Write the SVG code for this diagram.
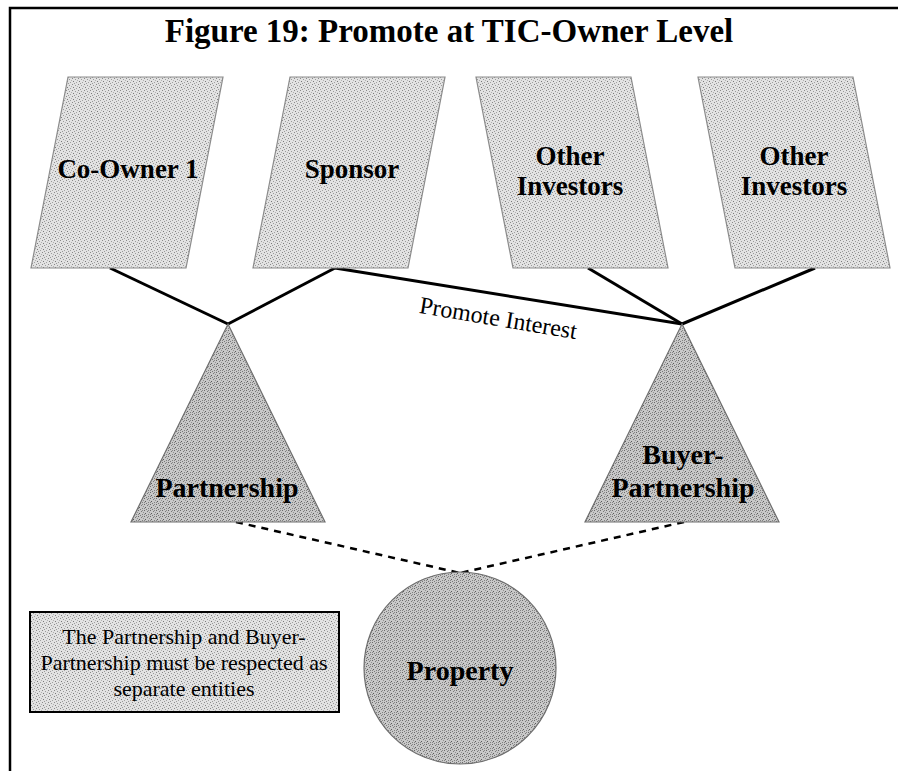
<svg xmlns="http://www.w3.org/2000/svg" width="898" height="771" viewBox="0 0 898 771">
  <defs>
    <!-- stippled fills -->
    <pattern id="stippleLight" width="6" height="6" patternUnits="userSpaceOnUse">
      <rect width="6" height="6" fill="#e2e2e2"/>
      <rect x="0" y="0" width="1" height="1" fill="#8a8a8a"/>
      <rect x="3" y="1" width="1" height="1" fill="#9a9a9a"/>
      <rect x="1" y="3" width="1" height="1" fill="#7a7a7a"/>
      <rect x="4" y="4" width="1" height="1" fill="#a0a0a0"/>
      <rect x="5" y="2" width="1" height="1" fill="#b0b0b0"/>
      <rect x="2" y="5" width="1" height="1" fill="#999"/>
    </pattern>
    <pattern id="stippleDark" width="6" height="6" patternUnits="userSpaceOnUse">
      <rect width="6" height="6" fill="#c8c8c8"/>
      <rect x="0" y="0" width="1" height="1" fill="#6a6a6a"/>
      <rect x="3" y="1" width="1" height="1" fill="#7a7a7a"/>
      <rect x="1" y="3" width="1" height="1" fill="#5a5a5a"/>
      <rect x="4" y="4" width="1" height="1" fill="#808080"/>
      <rect x="5" y="2" width="1" height="1" fill="#909090"/>
      <rect x="2" y="5" width="1" height="1" fill="#777"/>
      <rect x="4" y="0" width="1" height="1" fill="#888"/>
      <rect x="0" y="4" width="1" height="1" fill="#858585"/>
    </pattern>
    <style>
      .frame { stroke: #000; stroke-width: 2.5; fill: none; }
      .title { font-family: "Liberation Serif", "Times New Roman", serif; font-weight: bold; font-size: 33px; fill: #000; }
      .owner { fill: url(#stippleLight); stroke: #8c8c8c; stroke-width: 1.2; }
      .entity { fill: url(#stippleDark); stroke: #6e6e6e; stroke-width: 1.2; }
      .note { fill: url(#stippleLight); stroke: #000; stroke-width: 2; }
      .label { font-family: "Liberation Serif", "Times New Roman", serif; font-weight: bold; font-size: 27px; fill: #000; text-anchor: middle; }
      .big { font-size: 28px; }
      .edge { stroke: #000; stroke-width: 3; fill: none; }
      .dash { stroke: #000; stroke-width: 2.5; stroke-dasharray: 7 6; fill: none; }
      .edgeLabel { font-family: "Liberation Serif", "Times New Roman", serif; font-size: 24px; fill: #000; text-anchor: middle; }
      .noteText { font-family: "Liberation Serif", "Times New Roman", serif; font-size: 22px; fill: #000; text-anchor: middle; }
    </style>
  </defs>

  <rect width="898" height="771" fill="#fff"/>

  <!-- page frame (top and left rules) -->
  <path class="frame" d="M10 771 V8 H898"/>

  <text class="title" x="449" y="42" text-anchor="middle">Figure 19: Promote at TIC-Owner Level</text>

  <!-- connectors -->
  <g id="connectors">
    <line class="edge" x1="110" y1="268" x2="228" y2="324"/>
    <line class="edge" x1="335" y1="268" x2="228" y2="324"/>
    <line class="edge" x1="335" y1="268" x2="682" y2="324"/>
    <line class="edge" x1="588" y1="268" x2="682" y2="324"/>
    <line class="edge" x1="815" y1="268" x2="682" y2="324"/>
    <text class="edgeLabel" x="497" y="326" transform="rotate(9.5 497 326)">Promote Interest</text>
    <line class="dash" x1="236" y1="522" x2="460" y2="573"/>
    <line class="dash" x1="684" y1="522" x2="460" y2="573"/>
  </g>

  <g id="co-owner-1">
    <polygon class="owner" points="68,77 223,77 186,268 31,268"/>
    <text class="label" x="128" y="178">Co-Owner 1</text>
  </g>

  <g id="sponsor">
    <polygon class="owner" points="290,77 445,77 408,268 253,268"/>
    <text class="label" x="352" y="178">Sponsor</text>
  </g>

  <g id="other-investors-1">
    <polygon class="owner" points="476,77 631,77 668,268 513,268"/>
    <text class="label" x="570" y="165">Other</text>
    <text class="label" x="570" y="195">Investors</text>
  </g>

  <g id="other-investors-2">
    <polygon class="owner" points="698,77 853,77 890,268 735,268"/>
    <text class="label" x="794" y="165">Other</text>
    <text class="label" x="794" y="195">Investors</text>
  </g>

  <g id="partnership">
    <polygon class="entity" points="228,324 325,522 131,522"/>
    <text class="label big" x="227" y="497">Partnership</text>
  </g>

  <g id="buyer-partnership">
    <polygon class="entity" points="682,324 779,522 585,522"/>
    <text class="label big" x="683" y="464">Buyer-</text>
    <text class="label big" x="683" y="497">Partnership</text>
  </g>

  <g id="property">
    <circle class="entity" cx="460" cy="668" r="96"/>
    <text class="label big" x="460" y="680">Property</text>
  </g>

  <g id="note">
    <rect class="note" x="30" y="612" width="309" height="100"/>
    <text class="noteText" x="184" y="644">The Partnership and Buyer-</text>
    <text class="noteText" x="184" y="670">Partnership must be respected as</text>
    <text class="noteText" x="184" y="696">separate entities</text>
  </g>
</svg>
